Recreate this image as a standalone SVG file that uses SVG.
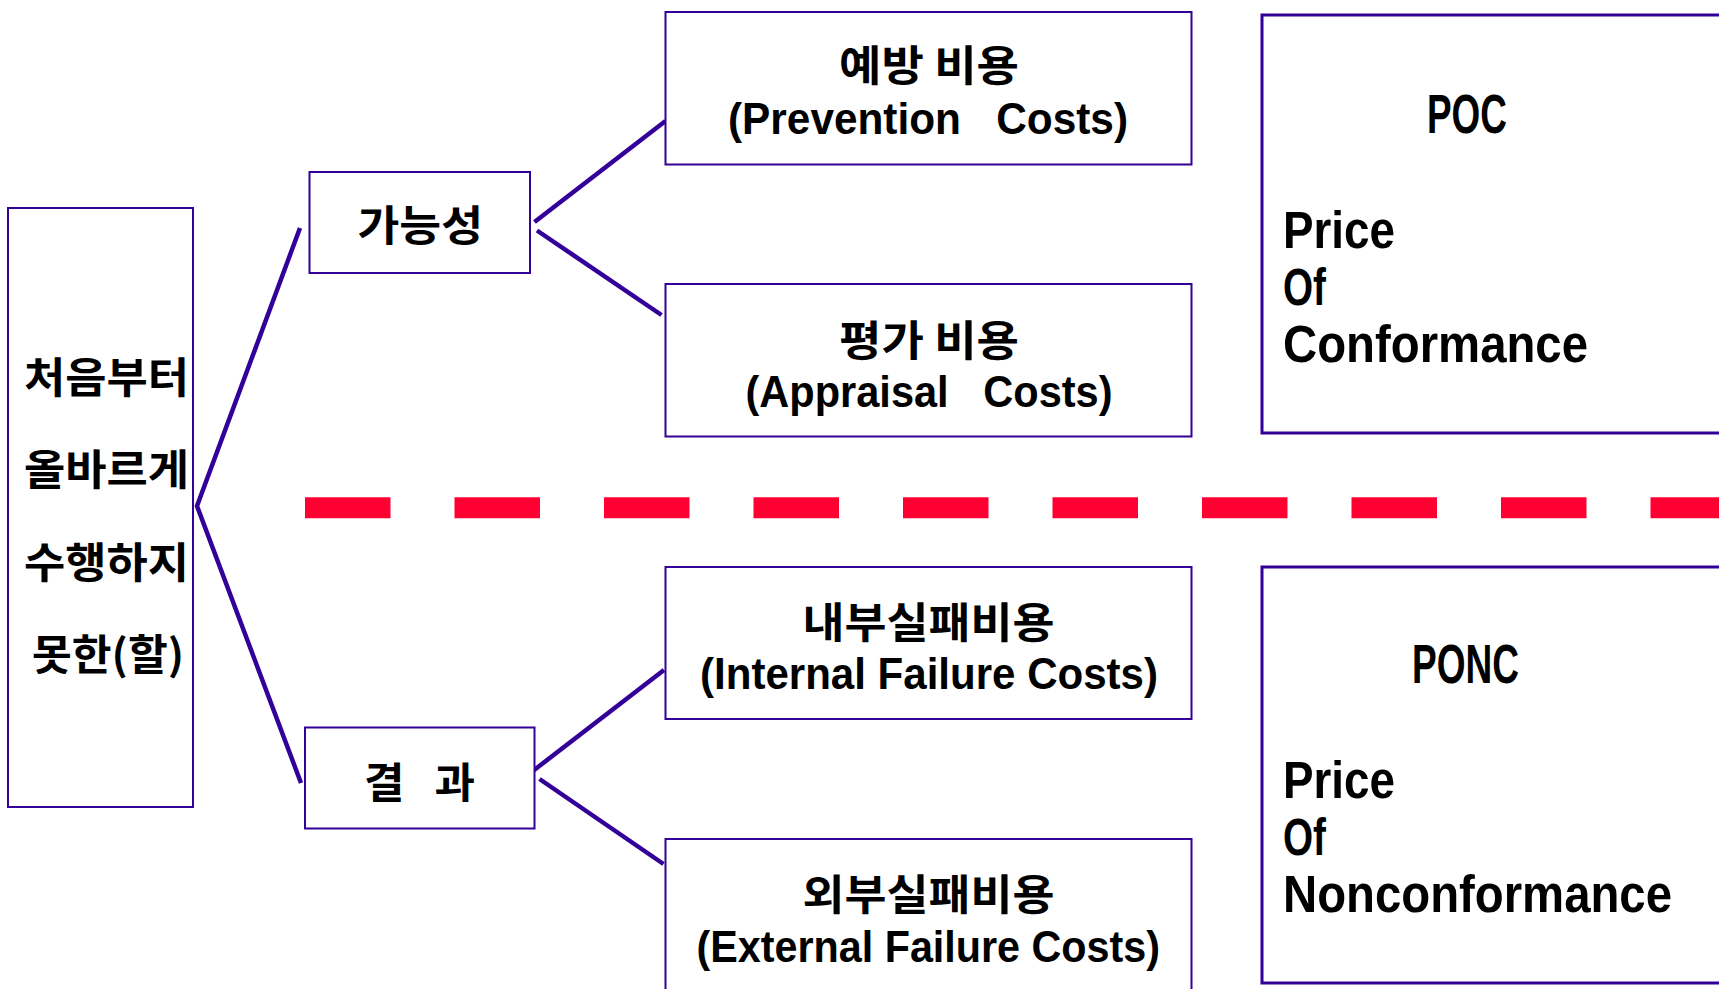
<svg xmlns="http://www.w3.org/2000/svg" width="1719" height="989" viewBox="0 0 1719 989">
<style>
.box{fill:#ffffff;stroke:#330099;stroke-width:2}
.bigbox{fill:#ffffff;stroke:#330099;stroke-width:3}
.conn{stroke:#330099;stroke-width:4.5;fill:none;stroke-linecap:butt}
.ko{font-family:"Noto Sans CJK KR","Noto Sans",sans-serif;font-weight:700;font-size:42px;fill:#000000}
.en{font-family:"Liberation Sans",Arial,sans-serif;font-weight:700;font-size:45px;fill:#000000}
.enb{font-family:"Liberation Sans",Arial,sans-serif;font-weight:700;font-size:51px;fill:#000000}
.ent{font-family:"Liberation Sans",Arial,sans-serif;font-weight:700;font-size:56px;fill:#000000}
</style>
<rect width="1719" height="989" fill="#ffffff"/>
<g id="connectors">
<polyline class="conn" points="300,228 197,506 301,783"/>
<line class="conn" x1="534.5" y1="222" x2="665.5" y2="121"/>
<line class="conn" x1="537" y1="230.5" x2="661.5" y2="315"/>
<line class="conn" x1="533.5" y1="770.5" x2="664" y2="670"/>
<line class="conn" x1="539.5" y1="779" x2="663.5" y2="864"/>
<line x1="305" y1="507.8" x2="1719" y2="507.8" stroke="#FF0033" stroke-width="21" stroke-dasharray="85.5 64"/>
</g>
<g id="root">
<rect class="box" x="8" y="208" width="185" height="599"/>
<text class="ko" x="24" y="393" textLength="165" lengthAdjust="spacingAndGlyphs">처음부터</text>
<text class="ko" x="24" y="484.5" textLength="165" lengthAdjust="spacingAndGlyphs">올바르게</text>
<text class="ko" x="24" y="578" textLength="165" lengthAdjust="spacingAndGlyphs">수행하지</text>
<text class="ko" x="32" y="669.5" textLength="152" lengthAdjust="spacingAndGlyphs">못한(할)</text>
</g>
<g id="possibility">
<rect class="box" x="309.5" y="172" width="220.5" height="101"/>
<text class="ko" x="357.5" y="241" textLength="125.5" lengthAdjust="spacingAndGlyphs">가능성</text>
</g>
<g id="result">
<rect class="box" x="305" y="727.5" width="229.5" height="101"/>
<text class="ko" x="364" y="797.5" textLength="111" lengthAdjust="spacingAndGlyphs" xml:space="preserve" style="white-space:pre">결   과</text>
</g>
<g id="prevention">
<rect class="box" x="665.5" y="12" width="526" height="152.5"/>
<text class="ko" x="839" y="81" textLength="180" lengthAdjust="spacingAndGlyphs">예방 비용</text>
<text class="en" x="728" y="134" textLength="400" lengthAdjust="spacingAndGlyphs" xml:space="preserve" style="white-space:pre">(Prevention   Costs)</text>
</g>
<g id="appraisal">
<rect class="box" x="665.5" y="284" width="526" height="152.5"/>
<text class="ko" x="839" y="356" textLength="180" lengthAdjust="spacingAndGlyphs">평가 비용</text>
<text class="en" x="745.5" y="407" textLength="367" lengthAdjust="spacingAndGlyphs" xml:space="preserve" style="white-space:pre">(Appraisal   Costs)</text>
</g>
<g id="internal">
<rect class="box" x="665.5" y="567" width="526" height="152"/>
<text class="ko" x="802.5" y="638" textLength="252" lengthAdjust="spacingAndGlyphs">내부실패비용</text>
<text class="en" x="700" y="689" textLength="458" lengthAdjust="spacingAndGlyphs">(Internal Failure Costs)</text>
</g>
<g id="external">
<rect class="box" x="665.5" y="839" width="526" height="160"/>
<text class="ko" x="802.5" y="909.5" textLength="252" lengthAdjust="spacingAndGlyphs">외부실패비용</text>
<text class="en" x="696.5" y="962" textLength="463.5" lengthAdjust="spacingAndGlyphs">(External Failure Costs)</text>
</g>
<g id="poc">
<rect class="bigbox" x="1262" y="15" width="480" height="418"/>
<text class="ent" x="1427" y="132.7" textLength="80" lengthAdjust="spacingAndGlyphs">POC</text>
<text class="enb" x="1283" y="248" textLength="112" lengthAdjust="spacingAndGlyphs">Price</text>
<text class="enb" x="1283" y="305" textLength="43" lengthAdjust="spacingAndGlyphs">Of</text>
<text class="enb" x="1283" y="362" textLength="305" lengthAdjust="spacingAndGlyphs">Conformance</text>
</g>
<g id="ponc">
<rect class="bigbox" x="1262" y="567" width="480" height="416"/>
<text class="ent" x="1412" y="683" textLength="107" lengthAdjust="spacingAndGlyphs">PONC</text>
<text class="enb" x="1283" y="798" textLength="112" lengthAdjust="spacingAndGlyphs">Price</text>
<text class="enb" x="1283" y="855" textLength="43" lengthAdjust="spacingAndGlyphs">Of</text>
<text class="enb" x="1283" y="912" textLength="389" lengthAdjust="spacingAndGlyphs">Nonconformance</text>
</g>
</svg>
